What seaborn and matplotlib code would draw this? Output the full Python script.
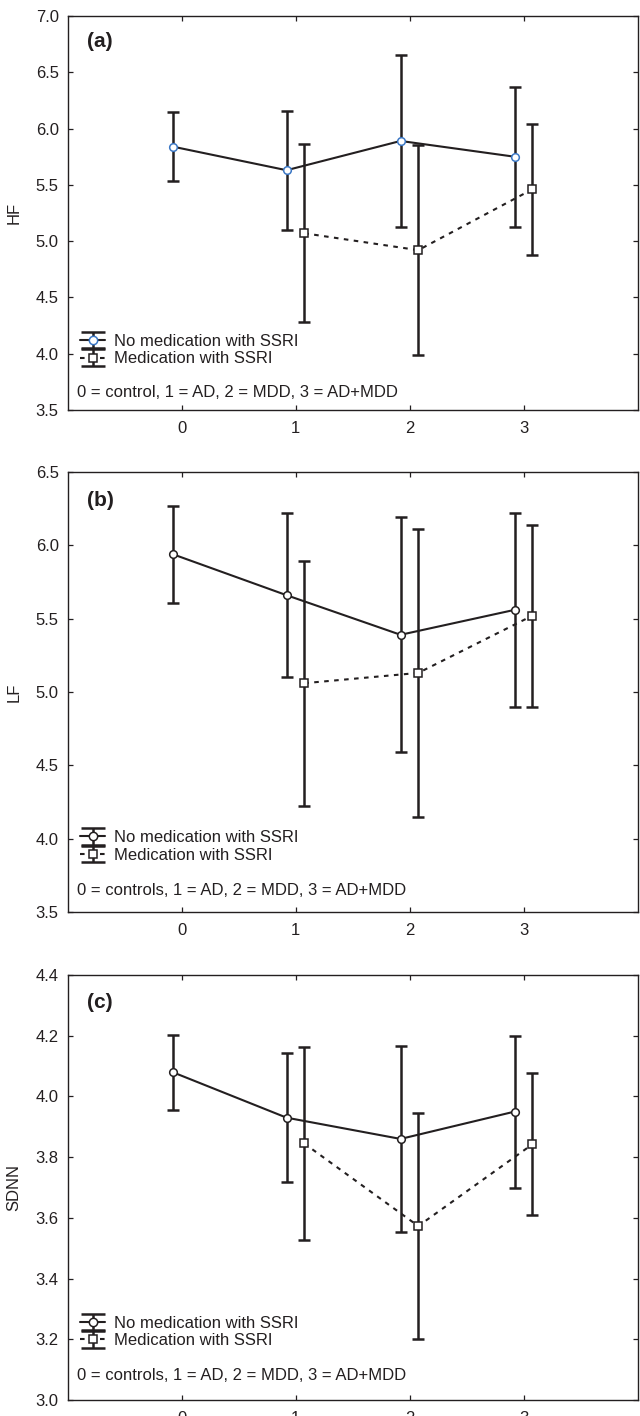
import matplotlib
matplotlib.use("Agg")
import matplotlib.pyplot as plt
import seaborn as sns
import pandas as pd
import numpy as np
from matplotlib.container import ErrorbarContainer
from matplotlib.collections import LineCollection
from matplotlib.lines import Line2D

# groups: 0 = control(s), 1 = AD, 2 = MDD, 3 = AD+MDD
groups = [0, 1, 2, 3]
med_groups = [1, 2, 3]

hf_nomed = [5.84, 5.63, 5.89, 5.75]
hf_nomed_err = [0.31, 0.53, 0.76, 0.62]
hf_med = [5.07, 4.92, 5.46]
hf_med_err = [0.79, 0.93, 0.58]

lf_nomed = [5.94, 5.66, 5.39, 5.56]
lf_nomed_err = [0.33, 0.56, 0.80, 0.66]
lf_med = [5.06, 5.13, 5.52]
lf_med_err = [0.835, 0.98, 0.62]

sdnn_nomed = [4.08, 3.93, 3.86, 3.95]
sdnn_nomed_err = [0.124, 0.213, 0.305, 0.25]
sdnn_med = [3.845, 3.573, 3.842]
sdnn_med_err = [0.318, 0.372, 0.234]

legend_labels = ["No medication with SSRI", "Medication with SSRI"]

INK = "#231f20"
BLUE = "#3a76c4"
NOMED_SHIFT = -0.08
MED_SHIFT = 0.075
DASH = (0, (2.2, 2.6))

sns.set_theme(style="ticks")
plt.rcParams['font.family'] = ['Liberation Sans', 'DejaVu Sans']
plt.rcParams['axes.edgecolor'] = INK
plt.rcParams['axes.linewidth'] = 1.0
plt.rcParams['xtick.color'] = INK
plt.rcParams['ytick.color'] = INK
plt.rcParams['text.color'] = INK
plt.rcParams['axes.labelcolor'] = INK

W, H = 640, 1416
fig = plt.figure(figsize=(W / 100, H / 100), dpi=100)


def px_axes(top, bottom, left=67.7, right=637.7):
    return fig.add_axes([left / W, 1 - bottom / H, (right - left) / W, (bottom - top) / H])


def legend_proxy(ls, marker, mec):
    line = Line2D([], [], color=INK, lw=1.5, ls=ls, marker=marker, ms=6,
                  mfc="white", mec=mec, mew=1.1)
    cap = Line2D([], [], color=INK, ls="none", marker="_", ms=17, mew=1.8)
    bar = LineCollection([], colors=INK, linewidths=1.8)
    return ErrorbarContainer((line, (cap, cap), (bar,)), has_xerr=False, has_yerr=True)


def draw_panel(ax, nomed, nomed_err, med, med_err, ylabel, ylim, ystep, letter,
               key_text, circle_edge, leg_y, key_y):
    df_n = pd.DataFrame({"x": np.array(groups) + NOMED_SHIFT, "y": nomed})
    df_m = pd.DataFrame({"x": np.array(med_groups) + MED_SHIFT, "y": med})

    ax.errorbar(df_n["x"], df_n["y"], yerr=nomed_err, fmt="none", ecolor=INK,
                elinewidth=1.8, capsize=4.5, capthick=1.8, zorder=2)
    ax.errorbar(df_m["x"], df_m["y"], yerr=med_err, fmt="none", ecolor=INK,
                elinewidth=1.8, capsize=4.5, capthick=1.8, zorder=2)

    sns.lineplot(data=df_n, x="x", y="y", ax=ax, color=INK, lw=1.5, marker="o",
                 markersize=5.5, markerfacecolor="white", markeredgecolor=circle_edge,
                 markeredgewidth=1.1, zorder=4, legend=False)
    sns.lineplot(data=df_m, x="x", y="y", ax=ax, color=INK, lw=1.5,
                 linestyle=DASH, marker="s", markersize=6,
                 markerfacecolor="white", markeredgecolor=INK,
                 markeredgewidth=1.1, zorder=4, legend=False)

    ax.set_xlim(-1, 4)
    ax.set_ylim(*ylim)
    ax.set_xticks(groups)
    ax.set_xticklabels([str(g) for g in groups])
    yt = np.arange(ylim[0], ylim[1] + ystep / 2, ystep)
    ax.set_yticks(yt)
    ax.set_yticklabels([f"{v:.1f}" for v in yt])
    ax.tick_params(direction="in", top=True, right=True, length=3.5, width=0.9,
                   labelsize=12)
    ax.tick_params(axis="y", pad=6.5)
    ax.tick_params(axis="x", pad=8)
    ax.set_xlabel("")
    ax.set_ylabel("")

    # y axis title, placed by hand so it stays inside the figure
    pos = ax.get_position()
    fig.text(14 / W, pos.y0 + pos.height / 2, ylabel, rotation=90, fontsize=12,
             ha="center", va="center")

    ax.text(0.057, 0.935, letter, transform=ax.transAxes, fontsize=15,
            fontweight="bold", ha="center", va="center")
    ax.text(0.016, key_y, key_text, transform=ax.transAxes, fontsize=12,
            ha="left", va="center")

    handles = [legend_proxy("-", "o", circle_edge),
               legend_proxy(DASH, "s", INK)]
    ax.legend(handles, legend_labels, loc="center left", bbox_to_anchor=(0.022, leg_y),
              frameon=False, fontsize=12, handlelength=1.5, handletextpad=0.5,
              labelspacing=0.15, borderpad=0, borderaxespad=0)


ax_a = px_axes(16, 410)
draw_panel(ax_a, hf_nomed, hf_nomed_err, hf_med, hf_med_err, "HF", (3.5, 7.0), 0.5,
           "(a)", "0 = control, 1 = AD, 2 = MDD, 3 = AD+MDD", BLUE, 0.152, 0.045)

ax_b = px_axes(472, 912)
draw_panel(ax_b, lf_nomed, lf_nomed_err, lf_med, lf_med_err, "LF", (3.5, 6.5), 0.5,
           "(b)", "0 = controls, 1 = AD, 2 = MDD, 3 = AD+MDD", INK, 0.149, 0.048)

ax_c = px_axes(975, 1400)
draw_panel(ax_c, sdnn_nomed, sdnn_nomed_err, sdnn_med, sdnn_med_err, "SDNN", (3.0, 4.4), 0.2,
           "(c)", "0 = controls, 1 = AD, 2 = MDD, 3 = AD+MDD", INK, 0.16, 0.057)

fig.savefig("out.png", dpi=100)
